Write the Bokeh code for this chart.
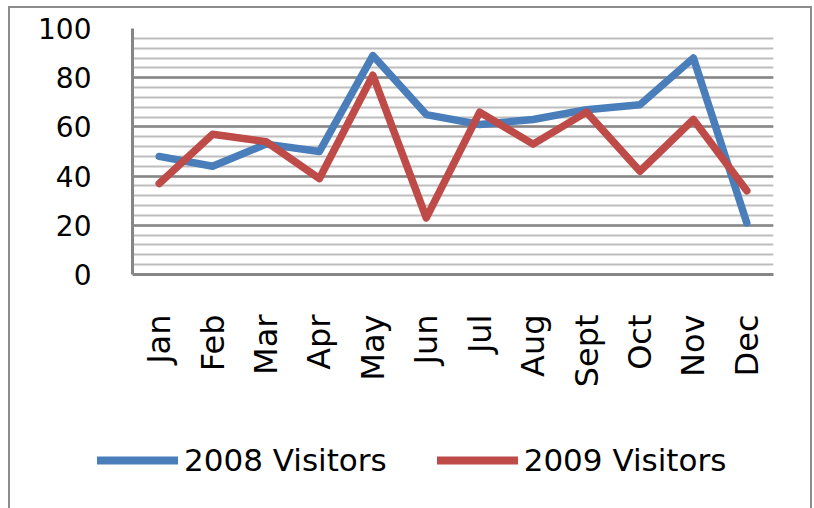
from bokeh.plotting import figure
from bokeh.layouts import column
from bokeh.models import Range1d, FactorRange, SingleIntervalTicker, Legend, LegendItem
from bokeh.embed import file_html
from bokeh.resources import INLINE
import math

months = ["Jan", "Feb", "Mar", "Apr", "May", "Jun", "Jul", "Aug", "Sept", "Oct", "Nov", "Dec"]
visitors_2008 = [48, 44, 53, 50, 89, 65, 61, 63, 67, 69, 88, 21]
visitors_2009 = [37, 57, 54, 39, 81, 23, 66, 53, 66, 42, 63, 34]
series_names = ["2008 Visitors", "2009 Visitors"]
series_colors = ["#4a7ebb", "#be4b48"]

FONT = "DejaVu Sans"

p = figure(width=800, height=400, output_backend="svg", toolbar_location=None,
           x_range=FactorRange(factors=months, range_padding=0),
           y_range=Range1d(0, 100),
           min_border_left=122, min_border_right=37, min_border_top=20, min_border_bottom=134)
p.outline_line_color = None
p.background_fill_color = "white"
p.border_fill_color = "white"

p.yaxis.ticker = SingleIntervalTicker(interval=20, num_minor_ticks=5)
p.ygrid.grid_line_color = "#868686"
p.ygrid.grid_line_width = 2.5
p.ygrid.minor_grid_line_color = "#bdbdbd"
p.ygrid.minor_grid_line_width = 2
p.xgrid.grid_line_color = None

for ax in (p.xaxis, p.yaxis):
    ax.axis_line_color = "#868686"
    ax.axis_line_width = 3
    ax.major_tick_line_color = None
    ax.minor_tick_line_color = None
    ax.major_label_text_font = FONT
    ax.major_label_text_color = "black"

p.yaxis.major_label_text_font_size = "28px"
p.yaxis.major_label_standoff = 35
p.xaxis.major_label_text_font_size = "32px"
p.xaxis.major_label_orientation = math.pi / 2
p.xaxis.major_label_standoff = 34

p.line(x=months, y=visitors_2008, line_color=series_colors[0], line_width=7.5,
       line_join="round", line_cap="round")
p.line(x=months, y=visitors_2009, line_color=series_colors[1], line_width=7.5,
       line_join="round", line_cap="round")

# legend strip below the plot (its series lie outside this strip's visible range)
p2 = figure(width=800, height=100, output_backend="svg", toolbar_location=None,
            x_range=FactorRange(factors=months, range_padding=0), y_range=Range1d(-300, -200),
            x_axis_type=None, y_axis_type=None,
            min_border_left=0, min_border_right=0, min_border_top=0, min_border_bottom=0)
if hasattr(p2, "frame_align"):
    p2.frame_align = False
p2.outline_line_color = None
p2.grid.visible = False
p2.background_fill_color = "white"
p2.border_fill_color = "white"
lr1 = p2.line(x=months, y=visitors_2008, line_color=series_colors[0], line_width=8, line_cap="round")
lr2 = p2.line(x=months, y=visitors_2009, line_color=series_colors[1], line_width=8, line_cap="round")

legend = Legend(items=[LegendItem(label=series_names[0], renderers=[lr1]),
                       LegendItem(label=series_names[1], renderers=[lr2])],
                orientation="horizontal", location=(87, 30),
                glyph_width=81, glyph_height=36, label_standoff=6, spacing=50,
                padding=0, margin=0, border_line_alpha=0, background_fill_alpha=0,
                label_text_font=FONT, label_text_font_size="31px", label_text_color="black")
p2.add_layout(legend, "center")

layout = column(p, p2, spacing=0)
layout.styles = {"border-top": "2px solid #8c8c8c", "border-left": "2px solid #8c8c8c",
                 "border-right": "2px solid #8c8c8c", "margin-left": "8px", "margin-top": "6px"}

open("out.html", "w").write(file_html(layout, INLINE))
